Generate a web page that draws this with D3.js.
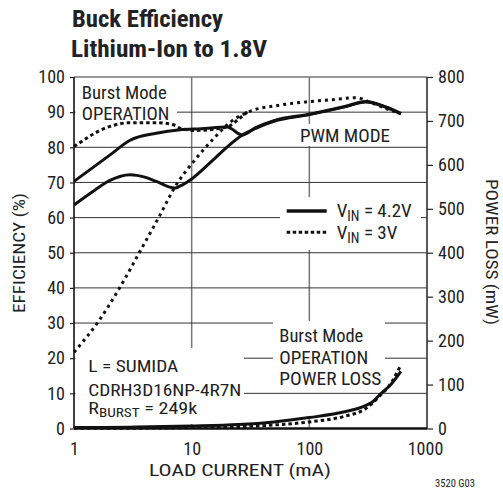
<!DOCTYPE html>
<html><head><meta charset="utf-8">
<script src="https://cdn.jsdelivr.net/npm/d3@7"></script>
<style>html,body{margin:0;padding:0;background:#fff;}svg{display:block;}</style>
</head><body>
<script>
// ---- data ----
const xTicks = [1, 10, 100, 1000];
const effTicks = [0, 10, 20, 30, 40, 50, 60, 70, 80, 90, 100];
const lossTicks = [0, 100, 200, 300, 400, 500, 600, 700, 800];

// Burst Mode efficiency, VIN = 4.2V (solid)
const burst42I   = [1, 2, 3, 5, 8, 12, 20, 27, 35, 50, 100, 200, 300, 450, 600];
const burst42Eff = [70.3, 77.7, 82, 84, 85, 85.3, 85.8, 83.5, 85.6, 87.6, 89.4, 91.6, 93, 91.4, 89.6];
// PWM efficiency, VIN = 4.2V (solid)
const pwm42I   = [1, 1.5, 2, 3, 4, 5, 7.2, 8, 10, 15, 21, 27, 35, 50, 100, 200, 300, 450, 600];
const pwm42Eff = [63.6, 67.8, 70.5, 72.2, 71.5, 70.3, 68.4, 69, 71, 76.2, 80.7, 83.5, 85.4, 87.4, 89.3, 91.5, 92.9, 91.4, 89.6];
// Burst Mode efficiency, VIN = 3V (dotted)
const burst3I   = [1, 2, 3, 5, 7, 8, 11, 20, 25, 30];
const burst3Eff = [80.2, 85.9, 87, 87, 86.4, 85.4, 84.8, 85.8, 88, 90.2];
// PWM efficiency, VIN = 3V (dotted)
const pwm3I   = [1, 1.6, 2.46, 3.64, 5.2, 7.45, 10.3, 15.3, 21, 30, 56, 100, 150, 250, 330, 450, 600];
const pwm3Eff = [21.7, 30.3, 40.2, 50.4, 59.8, 69.5, 75.8, 82.4, 87, 90, 92, 93, 93.5, 94.1, 92.8, 91, 89.5];
// Burst Mode power loss (right axis, mW)
const loss42I = [1, 3, 10, 25, 50, 100, 200, 300, 350, 400, 500, 600];
const loss42  = [2, 3, 5.5, 9, 15, 25, 38, 52, 62, 78, 102, 130];
const loss3I  = [1, 5, 10, 25, 50, 100, 200, 300, 400, 500, 550, 600];
const loss3   = [0.5, 1, 2, 4, 8, 15, 28, 45, 75, 105, 125, 145];

const FONT = "'Liberation Sans Narrow','Arial Narrow','Roboto Condensed',sans-serif";
const INK = "#222";

const W = 503, H = 493;
const svg = d3.select("body").append("svg").attr("width", W).attr("height", H)
  .style("font-family", FONT);

const L = 74, R = 427, T = 77, B = 428.5;
const x = d3.scaleLog().domain([1, 1000]).range([L, R]);
const yE = d3.scaleLinear().domain([0, 100]).range([B, T]);
const yL = d3.scaleLinear().domain([0, 800]).range([B, T]);

function fit(sel, w) { sel.attr("textLength", w).attr("lengthAdjust", "spacingAndGlyphs"); return sel; }
function box(x0, y0, x1, y1) {
  svg.append("rect").attr("x", x0).attr("y", y0).attr("width", x1 - x0).attr("height", y1 - y0).attr("fill", "#fff");
}

// vertical gridlines
svg.append("g").selectAll("line").data([10, 100]).join("line")
  .attr("x1", d => x(d)).attr("x2", d => x(d)).attr("y1", T).attr("y2", B)
  .attr("stroke", "#777").attr("stroke-width", 1.5);
box(304, 388, 318, 416);

// horizontal gridlines
svg.append("g").selectAll("line").data(effTicks.filter(d => d > 0 && d < 100)).join("line")
  .attr("x1", L).attr("x2", R).attr("y1", d => yE(d)).attr("y2", d => yE(d))
  .attr("stroke", "#333").attr("stroke-width", 1);
svg.append("line").attr("x1", L).attr("x2", R).attr("y1", T).attr("y2", T)
  .attr("stroke", "#777").attr("stroke-width", 1.5);

// label boxes that break the grid
box(75.5, 79, 177, 124);
box(298, 124, 393, 146);
box(280, 197, 421, 250);
box(75.5, 348, 244, 424);
box(273, 321, 385, 390);

// axes
const gL = svg.append("g").attr("transform", `translate(${L},0)`)
  .call(d3.axisLeft(yE).tickValues(effTicks).tickSize(4).tickPadding(5));
const gR = svg.append("g").attr("transform", `translate(${R},0)`)
  .call(d3.axisRight(yL).tickValues(lossTicks).tickSize(6).tickPadding(5));
const gB = svg.append("g").attr("transform", `translate(0,${B})`)
  .call(d3.axisBottom(x).tickValues(xTicks).tickFormat(d3.format("d")).tickSize(0).tickPadding(13.5));
[gL, gR, gB].forEach(g => {
  g.selectAll("text").attr("font-family", FONT).attr("font-size", 18).attr("fill", INK);
  g.selectAll(".tick line").attr("stroke", INK).attr("stroke-width", 1.2);
});
gL.select(".domain").attr("stroke", "#111").attr("stroke-width", 1.6).attr("d", `M0,${T}V${B}`);
gR.select(".domain").attr("stroke", "#333").attr("stroke-width", 1.6).attr("d", `M0,${T}V${B}`);
gB.select(".domain").attr("stroke", "#111").attr("stroke-width", 2.6).attr("d", `M${L},0H${R}`);
gB.selectAll(".tick text").attr("x", d => d === 1000 ? -2 : 0);

// curves
const lineE = d3.line().x(d => x(d[0])).y(d => yE(d[1])).curve(d3.curveMonotoneX);
const lineP = d3.line().x(d => x(d[0])).y(d => yL(d[1])).curve(d3.curveMonotoneX);
const zip = (a, b) => a.map((v, i) => [v, b[i]]);
function curve(gen, data, dotted, dash) {
  svg.append("path").attr("d", gen(data)).attr("fill", "none").attr("stroke", "#111")
    .attr("stroke-width", 3)
    .attr("stroke-dasharray", dotted ? (dash || "3.5,3") : null)
    .attr("stroke-linejoin", "round");
}
curve(lineP, zip(loss3I, loss3), true, "3.5,3");
curve(lineP, zip(loss42I, loss42), false);
curve(lineE, zip(burst3I, burst3Eff), true);
curve(lineE, zip(pwm3I, pwm3Eff), true, "3,4");
curve(lineE, zip(pwm42I, pwm42Eff), false);
curve(lineE, zip(burst42I, burst42Eff), false);

// text helper
const t = (txt, xx, yy, size, w, extra) => {
  const s = svg.append("text").attr("x", xx).attr("y", yy).attr("font-size", size)
    .attr("fill", INK).text(txt);
  if (extra) extra(s);
  if (w) fit(s, w);
  return s;
};
t("Buck Efficiency", 72, 27, 24, 151, s => s.attr("font-weight", "bold"));
t("Lithium-Ion to 1.8V", 71, 57, 24, 196, s => s.attr("font-weight", "bold"));

// annotations
t("Burst Mode", 81.7, 98.5, 19, 85);
t("OPERATION", 81.7, 120, 19, 87.6);
t("PWM MODE", 300, 142, 19, 90);
t("L = SUMIDA", 88.3, 372, 16.5, 90);
t("CDRH3D16NP-4R7N", 88.3, 395.5, 16.5, 153);
t("Burst Mode", 279.3, 342, 19, 84);
t("OPERATION", 279.3, 363.5, 19, 89);
t("POWER LOSS", 279.3, 384.5, 19, 102);

const rb = svg.append("text").attr("x", 88.3).attr("y", 414).attr("font-size", 16.5).attr("fill", INK);
rb.append("tspan").text("R");
rb.append("tspan").attr("font-size", 12.5).attr("dy", 3).text("BURST");
rb.append("tspan").attr("dy", -3).text(" = 249k");
fit(rb, 109);

// legend
svg.append("line").attr("x1", 286.7).attr("x2", 326.7).attr("y1", 211).attr("y2", 211)
  .attr("stroke", "#111").attr("stroke-width", 3.5);
svg.append("line").attr("x1", 286.7).attr("x2", 326.7).attr("y1", 232.3).attr("y2", 232.3)
  .attr("stroke", "#111").attr("stroke-width", 3).attr("stroke-dasharray", "3.5,2.5");
[["4.2V", 217], ["3V", 238.5]].forEach(([v, yy]) => {
  const s = svg.append("text").attr("x", 336.7).attr("y", yy).attr("font-size", 19).attr("fill", INK);
  s.append("tspan").text("V");
  s.append("tspan").attr("font-size", 14).attr("dy", 4).text("IN");
  s.append("tspan").attr("dy", -4).text(" = " + v);
});

// axis titles
t("LOAD CURRENT (mA)", 240, 476, 17, 182, s => s.attr("text-anchor", "middle"));
t("EFFICIENCY (%)", 0, 0, 17, 120, s => s.attr("text-anchor", "middle")
  .attr("transform", "translate(25,253) rotate(-90)"));
t("POWER LOSS (mW)", 0, 0, 17, 146, s => s.attr("text-anchor", "middle")
  .attr("transform", "translate(486,252) rotate(90)"));
t("3520 G03", 435, 487, 10.5, 40);
</script>
</body></html>
